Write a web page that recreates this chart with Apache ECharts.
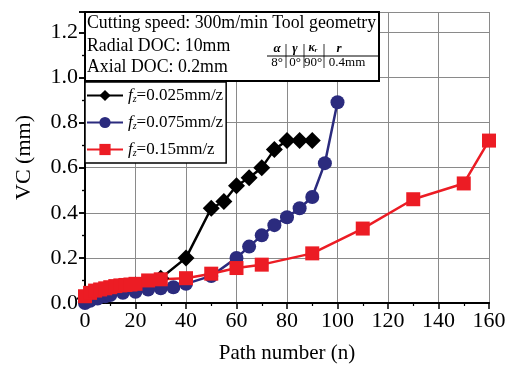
<!DOCTYPE html>
<html><head><meta charset="utf-8">
<script src="https://cdn.jsdelivr.net/npm/echarts@6/dist/echarts.min.js"></script>
<style>html,body{margin:0;padding:0;background:#fff}#c{width:513px;height:369px}</style>
</head><body><div id="c"></div>
<script>
const blackX = [0,2,4,6,8,10,15,20,25,30,40,50,55,60,65,70,75,80,85,90];
const blackY = [0.02,0.03,0.04,0.05,0.055,0.06,0.07,0.08,0.09,0.11,0.20,0.42,0.45,0.52,0.555,0.60,0.68,0.72,0.72,0.72];
const blueX = [0,2,5,8,10,15,20,25,30,35,40,50,60,65,70,75,80,85,90,95,100];
const blueY = [0.0,0.01,0.02,0.03,0.035,0.045,0.05,0.06,0.065,0.07,0.085,0.12,0.20,0.25,0.30,0.345,0.38,0.42,0.47,0.62,0.89];
const redX = [0,2,4,6,8,10,12,14,16,18,20,25,30,40,50,60,70,90,110,130,150,160];
const redY = [0.03,0.045,0.055,0.06,0.065,0.07,0.075,0.078,0.08,0.082,0.085,0.10,0.105,0.11,0.13,0.155,0.17,0.22,0.33,0.46,0.53,0.72];
const seriesNames = ['0.025mm/z','0.075mm/z','0.15mm/z'];
const xTicks = [0,20,40,60,80,100,120,140,160];
const yTicks = [0.0,0.2,0.4,0.6,0.8,1.0,1.2];

const serif = 'Liberation Serif';
const zip = (xs, ys) => xs.map((x, i) => [x, ys[i]]);
const chart = echarts.init(document.getElementById('c'));
chart.setOption({
  animation:false,
  grid:{left:85, right:24, top:12, bottom:62},
  xAxis:[{
    type:'value', min:0, max:160, interval:20,
    axisLine:{show:true, onZero:false, lineStyle:{color:'#000', width:2}},
    axisTick:{show:true, inside:false, length:6, lineStyle:{color:'#000', width:1.5}},
    minorTick:{show:true, splitNumber:2, length:3, lineStyle:{color:'#000', width:1.2}},
    splitLine:{show:true, lineStyle:{color:'#8a8a8a', width:1}},
    axisLabel:{fontFamily:serif, fontSize:22, color:'#000', margin:7,
      formatter:v => xTicks.includes(v) ? String(v) : ''},
    name:'Path number (n)', nameLocation:'middle', nameGap:40,
    nameTextStyle:{fontFamily:serif, fontSize:21, color:'#000'}
  },{
    type:'value', position:'top', min:0, max:160, interval:20,
    axisLine:{show:true, lineStyle:{color:'#000', width:2}},
    axisTick:{show:false}, axisLabel:{show:false}, splitLine:{show:false}
  }],
  yAxis:[{
    type:'value', min:0, max:1.29, interval:0.2,
    axisLine:{show:true, onZero:false, lineStyle:{color:'#000', width:2}},
    axisTick:{show:true, inside:false, length:6, lineStyle:{color:'#000', width:1.5}},
    minorTick:{show:true, splitNumber:2, length:3, lineStyle:{color:'#000', width:1.2}},
    splitLine:{show:true, lineStyle:{color:'#8a8a8a', width:1}},
    axisLabel:{fontFamily:serif, fontSize:22, color:'#000', margin:7, showMaxLabel:false,
      formatter:v => yTicks.some(t => Math.abs(t - v) < 1e-9) ? v.toFixed(1) : ''},
    name:'VC (mm)', nameLocation:'middle', nameGap:50,
    nameTextStyle:{fontFamily:serif, fontSize:22, color:'#000'}
  },{
    type:'value', position:'right', min:0, max:1.29, interval:0.2,
    axisLine:{show:true, lineStyle:{color:'#000', width:2}},
    axisTick:{show:true, inside:true, length:6, lineStyle:{color:'#000', width:1.5}},
    minorTick:{show:true, splitNumber:2, length:3, lineStyle:{color:'#000', width:1.2}},
    axisLabel:{show:false}, splitLine:{show:false}
  }],
  legend:{
    orient:'vertical', left:85, top:82, itemWidth:36, itemHeight:14, itemGap:10,
    padding:[5,3,5,1], borderColor:'#000', borderWidth:1.5, backgroundColor:'#fff',
    data:seriesNames,
    formatter:n => '{f|f}{z|z}{n|=' + n + '}',
    textStyle:{rich:{
      f:{fontFamily:serif, fontStyle:'italic', fontSize:17, color:'#000'},
      z:{fontFamily:serif, fontStyle:'italic', fontSize:10, color:'#000', verticalAlign:'bottom', padding:[6,0,0,0]},
      n:{fontFamily:serif, fontSize:17, color:'#000'}
    }}
  },
  graphic:[
    {type:'rect', shape:{x:85, y:12, width:294, height:69}, style:{fill:'#fff', stroke:'#000', lineWidth:2}, z:10},
    {type:'text', left:87, top:14, z:11, style:{text:'Cutting speed: 300m/min Tool geometry', font:'17.8px "Liberation Serif"', fill:'#000'}},
    {type:'text', left:87, top:37, z:11, style:{text:'Radial DOC: 10mm', font:'17.8px "Liberation Serif"', fill:'#000'}},
    {type:'text', left:87, top:58, z:11, style:{text:'Axial DOC: 0.2mm', font:'17.8px "Liberation Serif"', fill:'#000'}},
    {type:'text', x:277, y:42, z:11, style:{text:'α', font:'italic bold 13px "Liberation Serif"', fill:'#000', align:'center'}},
    {type:'text', x:295, y:42, z:11, style:{text:'γ', font:'italic bold 13px "Liberation Serif"', fill:'#000', align:'center'}},
    {type:'text', x:313, y:42, z:11, style:{text:'κᵣ', font:'italic bold 12px "Liberation Serif"', fill:'#000', align:'center'}},
    {type:'text', x:339, y:42, z:11, style:{text:'r', font:'italic bold 13px "Liberation Serif"', fill:'#000', align:'center'}},
    {type:'text', x:277, y:56, z:11, style:{text:'8°', font:'13px "Liberation Serif"', fill:'#000', align:'center'}},
    {type:'text', x:295, y:56, z:11, style:{text:'0°', font:'13px "Liberation Serif"', fill:'#000', align:'center'}},
    {type:'text', x:313, y:56, z:11, style:{text:'90°', font:'13px "Liberation Serif"', fill:'#000', align:'center'}},
    {type:'text', x:347, y:56, z:11, style:{text:'0.4mm', font:'13px "Liberation Serif"', fill:'#000', align:'center'}},
    {type:'line', z:11, shape:{x1:267, y1:56, x2:378, y2:56}, style:{stroke:'#000', lineWidth:1}},
    {type:'line', z:11, shape:{x1:286, y1:44, x2:286, y2:68}, style:{stroke:'#000', lineWidth:0.8}},
    {type:'line', z:11, shape:{x1:304, y1:44, x2:304, y2:68}, style:{stroke:'#000', lineWidth:0.8}},
    {type:'line', z:11, shape:{x1:324, y1:44, x2:324, y2:68}, style:{stroke:'#000', lineWidth:0.8}}
  ],
  series:[
    {name:seriesNames[0], type:'line', data:zip(blackX, blackY), symbol:'diamond', symbolSize:17,
     lineStyle:{color:'#000', width:2.5}, itemStyle:{color:'#000'}, color:'#000'},
    {name:seriesNames[1], type:'line', data:zip(blueX, blueY), symbol:'circle', symbolSize:14,
     lineStyle:{color:'#2b2b7e', width:2.5}, itemStyle:{color:'#2b2b7e'}, color:'#2b2b7e'},
    {name:seriesNames[2], type:'line', data:zip(redX, redY), symbol:'rect', symbolSize:14,
     lineStyle:{color:'#ec1c24', width:2.5}, itemStyle:{color:'#ec1c24'}, color:'#ec1c24'}
  ]
});
</script></body></html>
